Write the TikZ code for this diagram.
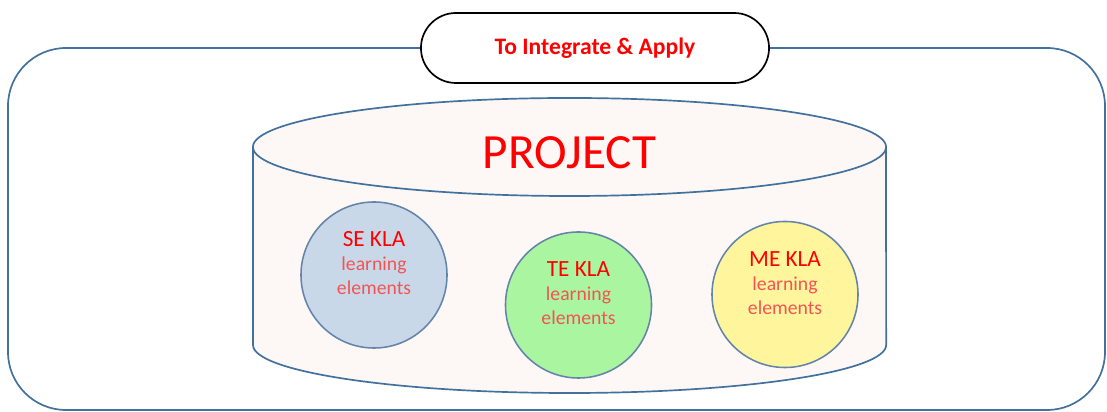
\documentclass[tikz,border=0pt]{standalone}
\usepackage{fontspec}
\setmainfont{Carlito}
\definecolor{edgeblue}{RGB}{65,113,156}
\definecolor{ringblue}{RGB}{100,132,170}
\definecolor{cylfill}{RGB}{253,248,246}
\definecolor{sefill}{RGB}{200,216,232}
\definecolor{tefill}{RGB}{170,245,160}
\definecolor{mefill}{RGB}{255,245,157}
\definecolor{softred}{RGB}{242,84,84}
\begin{document}
\begin{tikzpicture}[x=0.025cm, y=0.025cm,
    kla/.style={circle, draw=ringblue, line width=1.1pt, minimum size=3.65cm, inner sep=0pt},
    klatext/.style={align=center, text=softred, font=\fontsize{14}{17}\selectfont}]
  \useasboundingbox (0,0) rectangle (1107,412);
  \draw[edgeblue, line width=1.2pt, rounded corners=1.45cm] (8,2) rectangle (1105,364);
  \node[draw=black, fill=white, line width=1.2pt, rounded corners=0.875cm,
        minimum width=8.7cm, minimum height=1.75cm, text=red,
        font=\fontsize{16.8}{20}\selectfont\bfseries] (goal) at (595,364) {To Integrate \& Apply};
  \fill[cylfill] (253,265) -- (253,67) arc[start angle=180, end angle=360, x radius=7.9125cm, y radius=1.2cm] -- (886,265) -- cycle;
  \draw[edgeblue, line width=1.2pt] (253,265) -- (253,67) arc[start angle=180, end angle=360, x radius=7.9125cm, y radius=1.2cm] -- (886,265);
  \draw[edgeblue, line width=1.2pt, fill=cylfill] (569.5,265) ellipse[x radius=7.9125cm, y radius=1.225cm];
  \node[text=red, font=\fontsize{35}{42}\selectfont] (project) at (569.5,259.5) {PROJECT};
  \node[kla, fill=sefill] (se) at (374,137) {};
  \node[kla, fill=tefill] (te) at (578.5,107) {};
  \node[kla, fill=mefill] (me) at (785,117.5) {};
  \node[klatext] (se text) at ([yshift=0.29cm]se.center) {{\fontsize{16.5}{17}\selectfont\color{red}SE KLA}\\learning\\elements};
  \node[klatext] (te text) at ([yshift=0.29cm]te.center) {{\fontsize{16.5}{17}\selectfont\color{red}TE KLA}\\learning\\elements};
  \node[klatext] (me text) at ([yshift=0.29cm]me.center) {{\fontsize{16.5}{17}\selectfont\color{red}ME KLA}\\learning\\elements};
\end{tikzpicture}
\end{document}
